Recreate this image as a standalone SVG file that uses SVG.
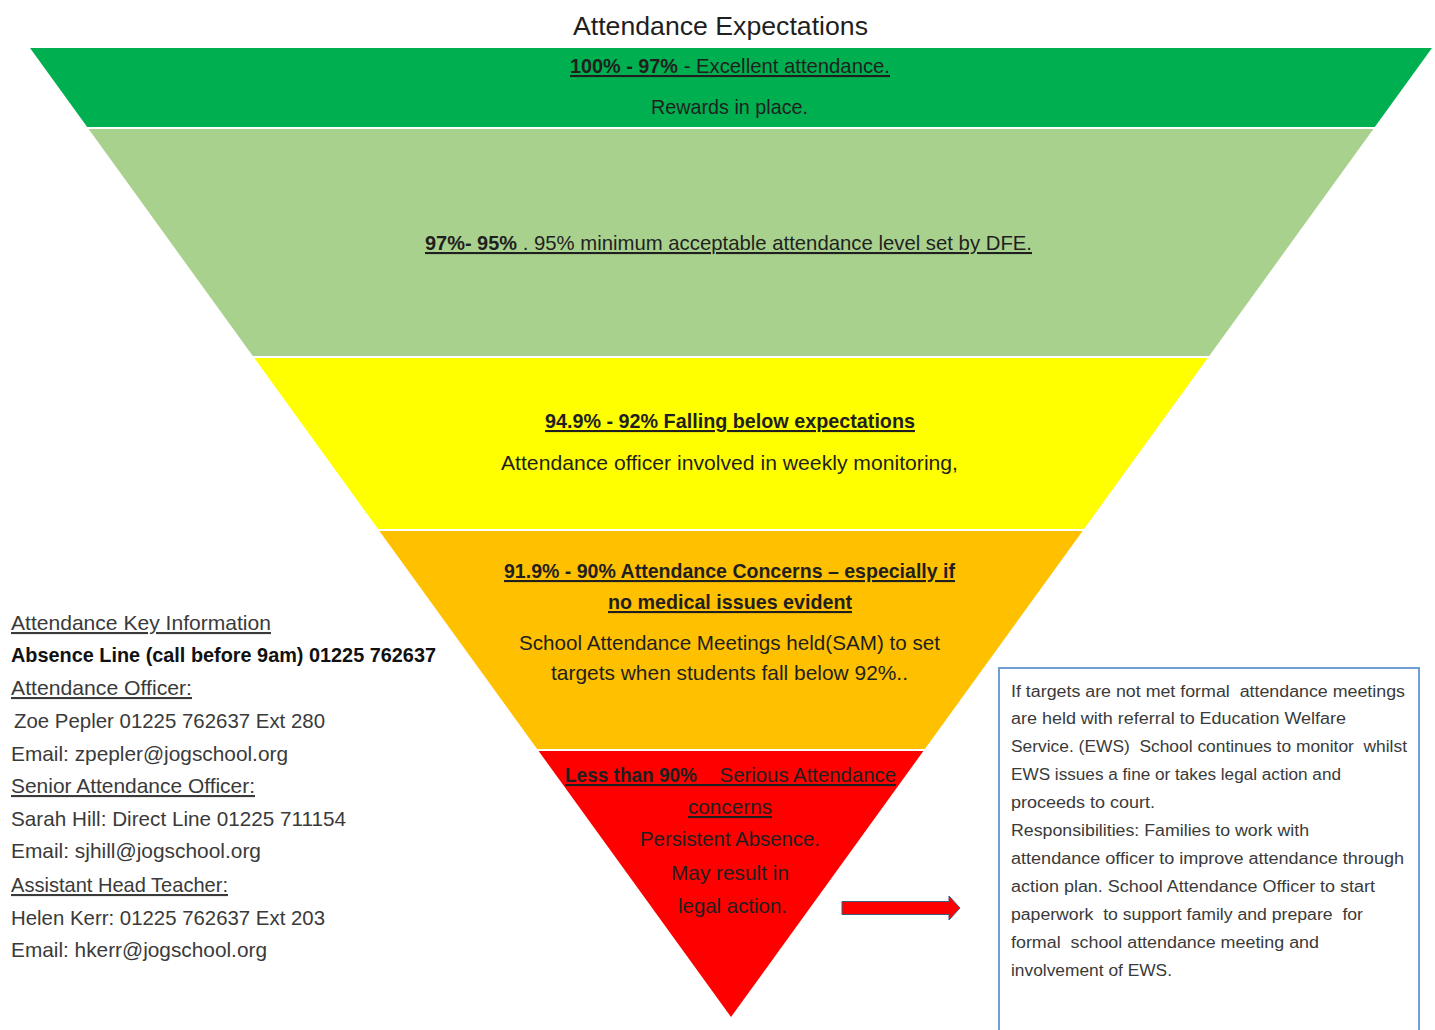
<svg xmlns="http://www.w3.org/2000/svg" width="1435" height="1030" viewBox="0 0 1435 1030">
<style>
.t{font-family:"Liberation Sans",Arial,sans-serif;fill:#1f1f1f}
.b{font-weight:bold}
.u{text-decoration:underline}
.band{font-size:21px}
.info{font-family:"Liberation Sans",Arial,sans-serif;font-size:21px;fill:#3a3a3a}
.box{font-family:"Liberation Sans",Arial,sans-serif;font-size:16px;fill:#3a3a3a}
</style>
<rect width="1435" height="1030" fill="#ffffff"/>
<text class="t" x="573" y="35" font-size="26" textLength="295" lengthAdjust="spacingAndGlyphs">Attendance Expectations</text>

<g id="band-excellent">
<polygon points="30,48 1432,48 1374.8,127 87.2,127" fill="#00B050"/>
<text class="t band b u" x="570" y="73" textLength="108" lengthAdjust="spacingAndGlyphs">100% - 97%</text>
<text class="t band u" x="678" y="73" textLength="212" lengthAdjust="spacingAndGlyphs" xml:space="preserve"> - Excellent attendance.</text>
<text class="t band" x="651" y="114" textLength="157" lengthAdjust="spacingAndGlyphs">Rewards in place.</text>
</g>

<g id="band-acceptable">
<polygon points="88.6,129 1373.4,129 1209.2,356 252.8,356" fill="#A9D18E"/>
<text class="t band b u" x="425" y="250" textLength="92" lengthAdjust="spacingAndGlyphs">97%- 95%</text>
<text class="t band u" x="517" y="250" textLength="515" lengthAdjust="spacingAndGlyphs" xml:space="preserve"> . 95% minimum acceptable attendance level set by DFE.</text>
</g>

<g id="band-falling">
<polygon points="254.3,358 1207.7,358 1084,529 378,529" fill="#FFFF00"/>
<text class="t band b u" x="545" y="428" textLength="370" lengthAdjust="spacingAndGlyphs">94.9% - 92% Falling below expectations</text>
<text class="t band" x="501" y="470" textLength="457" lengthAdjust="spacingAndGlyphs">Attendance officer involved in weekly monitoring,</text>
</g>

<g id="band-concerns">
<polygon points="379.4,531 1082.6,531 924.9,749 537.1,749" fill="#FFC000"/>
<text class="t band b u" x="504" y="578" textLength="451" lengthAdjust="spacingAndGlyphs">91.9% - 90% Attendance Concerns – especially if</text>
<text class="t band b u" x="608" y="609" textLength="244" lengthAdjust="spacingAndGlyphs">no medical issues evident</text>
<text class="t band" x="519" y="650" textLength="421" lengthAdjust="spacingAndGlyphs">School Attendance Meetings held(SAM) to set</text>
<text class="t band" x="551" y="680" textLength="357" lengthAdjust="spacingAndGlyphs">targets when students fall below 92%..</text>
</g>

<g id="band-serious">
<polygon points="538.6,751 923.4,751 731,1017" fill="#FF0000"/>
<text class="t band b u" x="565" y="782" textLength="132" lengthAdjust="spacingAndGlyphs">Less than 90%</text>
<text class="t band u" x="697" y="782" textLength="199" lengthAdjust="spacingAndGlyphs" xml:space="preserve">    Serious Attendance</text>
<text class="t band u" x="688" y="814" textLength="84" lengthAdjust="spacingAndGlyphs">concerns</text>
<text class="t band" x="640" y="846" textLength="180" lengthAdjust="spacingAndGlyphs">Persistent Absence.</text>
<text class="t band" x="671" y="880" textLength="118" lengthAdjust="spacingAndGlyphs">May result in</text>
<text class="t band" x="678" y="913" textLength="109" lengthAdjust="spacingAndGlyphs">legal action.</text>
</g>

<g id="connectors">
<polygon points="842,901.5 949,901.5 949,896 960,908 949,920 949,914.5 842,914.5" fill="#FF0000" stroke="#3d5a80" stroke-width="1"/>
</g>

<g id="key-info">
<text class="info u" x="11" y="630" textLength="260" lengthAdjust="spacingAndGlyphs">Attendance Key Information</text>
<text class="info b" x="11" y="662" style="fill:#111" textLength="425" lengthAdjust="spacingAndGlyphs">Absence Line (call before 9am) 01225 762637</text>
<text class="info u" x="11" y="695" textLength="181" lengthAdjust="spacingAndGlyphs">Attendance Officer:</text>
<text class="info" x="14" y="728" textLength="311" lengthAdjust="spacingAndGlyphs">Zoe Pepler 01225 762637 Ext 280</text>
<text class="info" x="11" y="761" textLength="277" lengthAdjust="spacingAndGlyphs">Email: zpepler@jogschool.org</text>
<text class="info u" x="11" y="793" textLength="244" lengthAdjust="spacingAndGlyphs">Senior Attendance Officer:</text>
<text class="info" x="11" y="826" textLength="335" lengthAdjust="spacingAndGlyphs">Sarah Hill: Direct Line 01225 711154</text>
<text class="info" x="11" y="858" textLength="250" lengthAdjust="spacingAndGlyphs">Email: sjhill@jogschool.org</text>
<text class="info u" x="11" y="892" textLength="217" lengthAdjust="spacingAndGlyphs">Assistant Head Teacher:</text>
<text class="info" x="11" y="925" textLength="314" lengthAdjust="spacingAndGlyphs">Helen Kerr: 01225 762637 Ext 203</text>
<text class="info" x="11" y="957" textLength="256" lengthAdjust="spacingAndGlyphs">Email: hkerr@jogschool.org</text>
</g>

<g id="ews-box">
<rect x="999" y="668" width="420" height="370" fill="#ffffff" stroke="#6f9fd3" stroke-width="2"/>
<text class="box" x="1011" y="697" textLength="394" lengthAdjust="spacingAndGlyphs" xml:space="preserve">If targets are not met formal  attendance meetings</text>
<text class="box" x="1011" y="724" textLength="335" lengthAdjust="spacingAndGlyphs">are held with referral to Education Welfare</text>
<text class="box" x="1011" y="752" textLength="396" lengthAdjust="spacingAndGlyphs" xml:space="preserve">Service. (EWS)  School continues to monitor  whilst</text>
<text class="box" x="1011" y="780" textLength="330" lengthAdjust="spacingAndGlyphs">EWS issues a fine or takes legal action and</text>
<text class="box" x="1011" y="808" textLength="144" lengthAdjust="spacingAndGlyphs">proceeds to court.</text>
<text class="box" x="1011" y="836" textLength="298" lengthAdjust="spacingAndGlyphs">Responsibilities: Families to work with</text>
<text class="box" x="1011" y="864" textLength="393" lengthAdjust="spacingAndGlyphs">attendance officer to improve attendance through</text>
<text class="box" x="1011" y="892" textLength="364" lengthAdjust="spacingAndGlyphs">action plan. School Attendance Officer to start</text>
<text class="box" x="1011" y="920" textLength="352" lengthAdjust="spacingAndGlyphs" xml:space="preserve">paperwork  to support family and prepare  for</text>
<text class="box" x="1011" y="948" textLength="308" lengthAdjust="spacingAndGlyphs" xml:space="preserve">formal  school attendance meeting and</text>
<text class="box" x="1011" y="976" textLength="161" lengthAdjust="spacingAndGlyphs">involvement of EWS.</text>
</g>
</svg>
